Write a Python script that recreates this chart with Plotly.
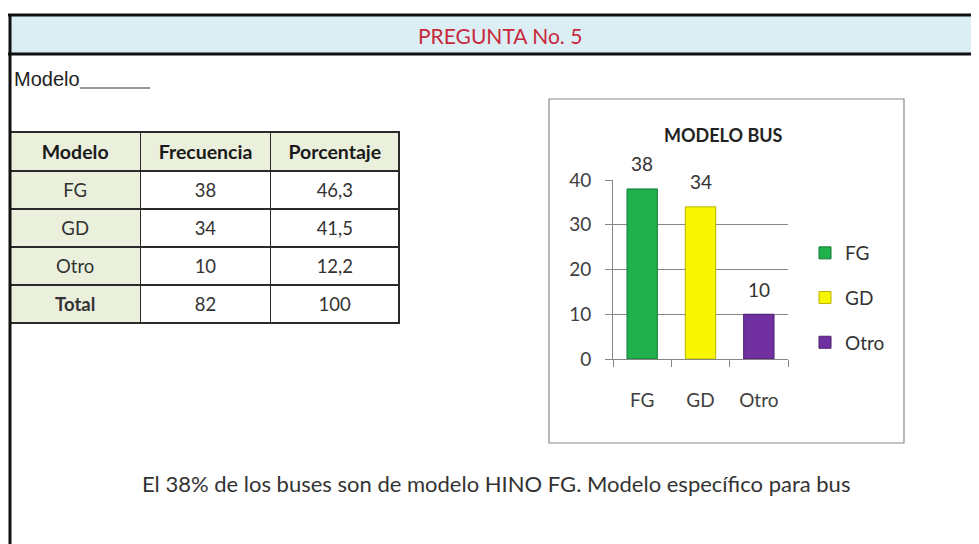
import plotly.graph_objects as go

# ---------------- data ----------------
categorias = ["FG", "GD", "Otro"]
frecuencia = [38, 34, 10]
porcentaje = ["46,3", "41,5", "12,2"]
total_frecuencia = 82
total_porcentaje = "100"
encabezados = ["Modelo", "Frecuencia", "Porcentaje"]
colores = ["#20B04C", "#F7F500", "#7030A0"]
colores_borde = ["#137A33", "#B8B400", "#4B1F6E"]
titulo_pregunta = "PREGUNTA No. 5"
titulo_grafico = "MODELO BUS"
conclusion = "El 38% de los buses son de modelo HINO FG. Modelo específico para bus"
y_ticks = [0, 10, 20, 30, 40]

W, H = 979, 544
OFF = 8  # page body margin


def px(x):
    return (x - OFF) / W


def py(y):
    return 1 - (y - OFF) / H


FONT = "Lato, Open Sans, sans-serif"
BEIGE = "#EBF0DD"

fig = go.Figure()

# ---------------- bars (one trace per category, Excel "vary colours") ----------------
for i, cat in enumerate(categorias):
    fig.add_trace(go.Bar(
        x=[cat], y=[frecuencia[i]], name=cat,
        width=0.52,
        marker=dict(color=colores[i], line=dict(color=colores_borde[i], width=1)),
        legendgroup=cat,
        showlegend=True,
        hoverinfo="x+y",
    ))
    fig.add_annotation(
        x=cat, y=frecuencia[i], xref="x", yref="y",
        text=str(frecuencia[i]), showarrow=False, yshift=25,
        font=dict(family=FONT, size=19, color="#333333"),
    )

# ---------------- table ----------------
def rich(v):
    return "<span>%s</span>" % v

col_modelo = [rich(c) for c in categorias] + ["<b>Total</b>"]
col_frec = [rich(v) for v in frecuencia] + [rich(total_frecuencia)]
col_porc = [rich(v) for v in porcentaje] + [rich(total_porcentaje)]
fig.add_trace(go.Table(
    domain=dict(x=[px(10), px(399)], y=[py(340), py(132)]),
    columnwidth=[130, 130, 128],
    header=dict(
        values=["<b>%s</b>" % h for h in encabezados],
        fill_color=BEIGE,
        line=dict(color="#2a2a2a", width=1.5),
        align="center", height=34,
        font=dict(family=FONT, size=19.5, color="#1a1a1a"),
    ),
    cells=dict(
        values=[col_modelo, col_frec, col_porc],
        fill_color=[[BEIGE] * 4, ["white"] * 4, ["white"] * 4],
        line=dict(color="#2a2a2a", width=1.5),
        align="center", height=34,
        font=dict(family=FONT, size=18.5, color="#333333"),
    ),
))

# ---------------- frame shapes ----------------
shapes = [
    dict(type="rect", xref="paper", yref="paper", x0=px(10), x1=px(990), y0=py(54), y1=py(15),
         fillcolor="#DAEEF3", line=dict(width=0), layer="below"),
    dict(type="line", xref="paper", yref="paper", x0=px(8), x1=px(990), y0=py(15), y1=py(15),
         line=dict(color="#111111", width=3)),
    dict(type="line", xref="paper", yref="paper", x0=px(8), x1=px(990), y0=py(54), y1=py(54),
         line=dict(color="#111111", width=3)),
    dict(type="line", xref="paper", yref="paper", x0=px(10), x1=px(10), y0=py(14), y1=py(560),
         line=dict(color="#111111", width=3)),
    # chart box
    dict(type="rect", xref="paper", yref="paper", x0=px(549), x1=px(904), y0=py(443), y1=py(99),
         fillcolor="rgba(0,0,0,0)", line=dict(color="#8a8a8a", width=1.2)),
    # underline for Modelo____
    dict(type="line", xref="paper", yref="paper", x0=px(80), x1=px(150), y0=py(88), y1=py(88),
         line=dict(color="#333333", width=1.2)),
]

annotations = [
    dict(text=titulo_pregunta, x=px(500), y=py(35), xref="paper", yref="paper", showarrow=False,
         font=dict(family=FONT, size=21, color="#C8283C"), xanchor="center", yanchor="middle"),
    dict(text="Modelo", x=px(12), y=py(79), xref="paper", yref="paper", showarrow=False,
         font=dict(family="Liberation Sans Narrow, Arial Narrow, Liberation Sans, sans-serif", size=20, color="#222222"),
         xanchor="left", yanchor="middle"),
    dict(text="<b>%s</b>" % titulo_grafico, x=px(723), y=py(135), xref="paper", yref="paper", showarrow=False,
         font=dict(family=FONT, size=18, color="#222222"), xanchor="center", yanchor="middle"),
    dict(text=conclusion, x=px(496), y=py(483), xref="paper", yref="paper", showarrow=False,
         font=dict(family=FONT, size=22, color="#333333"), xanchor="center", yanchor="middle"),
]
for a in annotations:
    fig.add_annotation(**a)

fig.update_layout(
    width=W, height=H,
    margin=dict(l=0, r=0, t=0, b=0, pad=0, autoexpand=False),
    paper_bgcolor="white", plot_bgcolor="rgba(0,0,0,0)",
    barmode="overlay",
    shapes=shapes,
    font=dict(family=FONT, size=14, color="#404040"),
    showlegend=True,
    legend=dict(x=px(805), y=py(234), xanchor="left", yanchor="top",
                font=dict(family=FONT, size=19, color="#333333"),
                tracegroupgap=17, bgcolor="rgba(0,0,0,0)", itemwidth=30),
    xaxis=dict(domain=[px(613), px(788)], showgrid=False, showline=True, linecolor="#868686",
               ticks="outside", ticklen=7, tickcolor="#868686", tickson="boundaries",
               tickfont=dict(family=FONT, size=19, color="#404040"), ticklabelstandoff=24,
               categoryorder="array", categoryarray=categorias, fixedrange=True, automargin=False),
    yaxis=dict(domain=[py(359), py(180)], range=[0, 40], tickvals=y_ticks,
               showgrid=True, gridcolor="#868686", gridwidth=1,
               showline=True, linecolor="#868686", zeroline=False,
               ticks="outside", ticklen=7, tickcolor="#868686",
               tickfont=dict(family=FONT, size=19, color="#404040"), ticklabelstandoff=10,
               fixedrange=True, automargin=False),
)

fig.write_html("out.html")
